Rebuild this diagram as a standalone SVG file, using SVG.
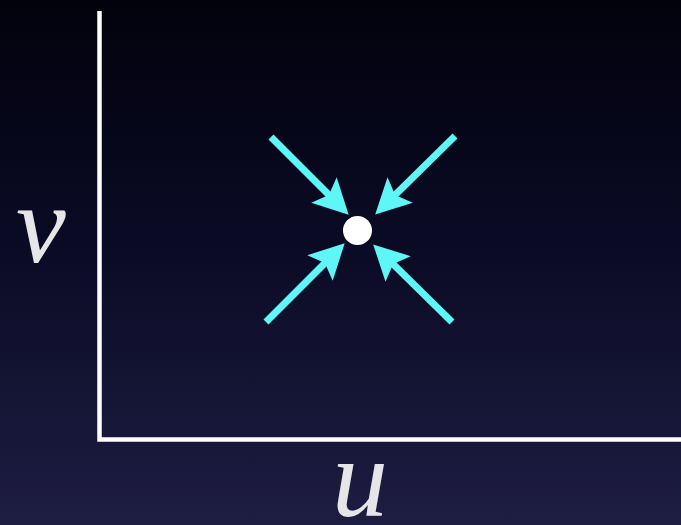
<svg xmlns="http://www.w3.org/2000/svg" width="681" height="525" viewBox="0 0 681 525">
<defs>
<linearGradient id="bg" x1="0" y1="0" x2="0" y2="1">
<stop offset="0" stop-color="#02020d"/>
<stop offset="0.45" stop-color="#0a0a24"/>
<stop offset="1" stop-color="#1e1d42"/>
</linearGradient>
<marker id="ah" markerUnits="userSpaceOnUse" orient="auto" refX="0" refY="0" markerWidth="40" markerHeight="40" overflow="visible">
<path d="M25,0 L-10,-18 L-3,0 L-10,18 Z" fill="#5ff6f8"/>
</marker>
<style>
.axis{stroke:#ffffff;stroke-width:4.5;fill:none}
.flow{stroke:#5ff6f8;stroke-width:7;fill:none;marker-end:url(#ah)}
.lbl{font-family:"Liberation Serif","DejaVu Serif",serif;font-style:italic;font-size:112px;fill:#e6e6e8}
</style>
</defs>
<rect width="681" height="525" fill="url(#bg)"/>
<g id="axes">
<path class="axis" d="M99.5,11 V439.5 H681"/>
</g>
<g id="labels">
<text class="lbl" x="16" y="262">v</text>
<text class="lbl" x="332" y="516">u</text>
</g>
<g id="connectors">
<line class="flow" x1="271" y1="137" x2="331" y2="197"/>
<line class="flow" x1="455" y1="136" x2="393" y2="197"/>
<line class="flow" x1="266" y1="322" x2="327" y2="261"/>
<line class="flow" x1="452" y1="322" x2="391" y2="262"/>
</g>
<g id="point">
<circle cx="357.5" cy="230.5" r="14.5" fill="#ffffff"/>
</g>
</svg>
